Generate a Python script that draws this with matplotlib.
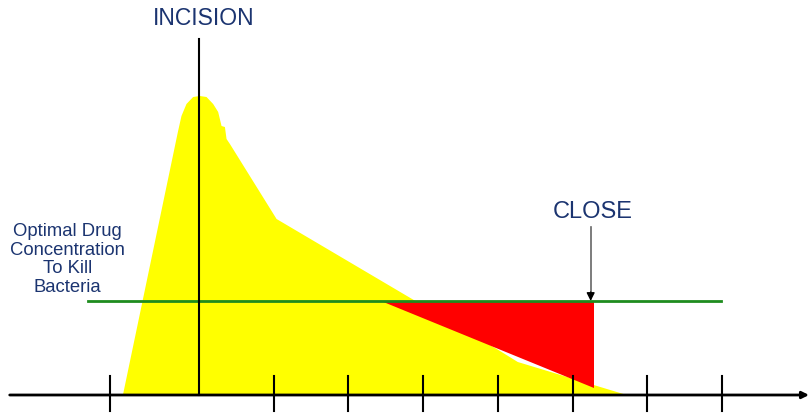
import matplotlib.pyplot as plt
from matplotlib.patches import Polygon

plt.rcParams['font.family'] = ['Liberation Sans', 'DejaVu Sans']

# Time in "intervals" relative to incision (0), concentration in arbitrary units
TIME_TICKS = [-1.19, 1, 2, 3, 4, 5, 6, 7]
INCISION_T = 0.0
CLOSE_T = 5.24
MIC = 0.94  # optimal drug concentration to kill bacteria

# Drug concentration curve (yellow area)
curve_t = [-1.016, -0.281, -0.233, -0.166, -0.077, 0.013, 0.102, 0.191,
           0.258, 0.303, 0.348, 0.370, 0.415, 1.039, 3.984, 4.265, 5.722]
curve_c = [0.0, 2.63, 2.79, 2.91, 2.98, 2.99, 2.98, 2.91,
           2.83, 2.69, 2.68, 2.56, 2.51, 1.76, 0.46, 0.33, 0.0]

# Under-dosed region after concentration drops below MIC (red)
gap_t = [2.44, 5.29, 5.29]
gap_c = [0.94, 0.94, 0.07]

NAVY = '#1B3470'

fig = plt.figure(figsize=(8.09, 4.14), dpi=100)
ax = fig.add_axes([0, 0, 1, 1])
ax.set_xlim(-2.66, 8.16)
ax.set_ylim(-0.18, 3.96)
ax.axis('off')

ax.fill(curve_t, curve_c, color='#FFFF00', lw=0, zorder=1)
ax.add_patch(Polygon(list(zip(gap_t, gap_c)), closed=True,
                     color='#FF0000', lw=0, zorder=2))

# MIC line
ax.plot([-1.48, 6.98], [MIC, MIC], color='#1E8C1E', lw=2, zorder=3)

# time axis with arrow
ax.annotate('', xy=(8.16, 0), xytext=(-2.53, 0),
            arrowprops=dict(arrowstyle='-|>', color='black', lw=2,
                            mutation_scale=10, shrinkA=0, shrinkB=0),
            zorder=4)
for t in TIME_TICKS:
    ax.plot([t, t], [0.19, -0.16], color='black', lw=1.5, zorder=4)

# incision line
ax.plot([INCISION_T, INCISION_T], [0, 3.56], color='black', lw=1.5, zorder=4)
ax.text(0.067, 3.77, 'INCISION', ha='center', va='center',
        fontsize=16.5, color=NAVY)

# close marker: grey shaft, black head
ax.plot([CLOSE_T, CLOSE_T], [1.68, MIC + 0.05], color='#666666', lw=1.2, zorder=5)
ax.annotate('', xy=(CLOSE_T, MIC), xytext=(CLOSE_T, MIC + 0.09),
            arrowprops=dict(arrowstyle='-|>', color='black', lw=1,
                            mutation_scale=12, shrinkA=0, shrinkB=0),
            zorder=5)
ax.text(5.27, 1.84, 'CLOSE', ha='center', va='center',
        fontsize=17, color=NAVY)

ax.text(-1.76, 1.365, 'Optimal Drug\nConcentration\nTo Kill\nBacteria',
        ha='center', va='center', fontsize=13.3, color=NAVY, linespacing=1.12)

fig.savefig('out.png', dpi=100)
